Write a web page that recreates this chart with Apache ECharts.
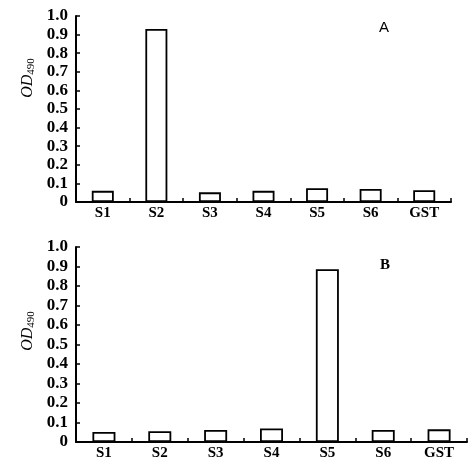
<!DOCTYPE html>
<html><head><meta charset="utf-8">
<script src="https://cdn.jsdelivr.net/npm/echarts@6/dist/echarts.min.js"></script>
<style>html,body{margin:0;padding:0;background:#fff}#c{width:474px;height:467px}</style>
</head><body><div id="c"></div>
<script>
var categories = ['S1','S2','S3','S4','S5','S6','GST'];
var valuesA = [0.06, 0.93, 0.052, 0.06, 0.074, 0.07, 0.063];
var valuesB = [0.051, 0.055, 0.062, 0.069, 0.886, 0.062, 0.065];
var yTickLabels = ['0','0.1','0.2','0.3','0.4','0.5','0.6','0.7','0.8','0.9','1.0'];
var panelLabels = ['A','B'];

var serif = '"Liberation Serif","DejaVu Serif",serif';
var chart = echarts.init(document.getElementById('c'));
function yAxis(gi){
  return {gridIndex:gi,type:'value',min:0,max:1,interval:0.1,
    axisLine:{show:true,lineStyle:{color:'#000',width:2}},
    axisTick:{show:true,inside:true,length:4,lineStyle:{color:'#000',width:1.5}},
    splitLine:{show:false},
    axisLabel:{color:'#000',fontFamily:serif,fontWeight:'bold',fontSize:17,margin:8,
      formatter:function(v){return yTickLabels[Math.round(v*10)];}}};
}
function xAxis(gi){
  return {gridIndex:gi,type:'category',data:categories,
    axisLine:{show:true,lineStyle:{color:'#000',width:2}},
    axisTick:{show:true,inside:true,length:4,interval:0,lineStyle:{color:'#000',width:1.5}},
    axisLabel:{color:'#000',fontFamily:serif,fontWeight:'bold',fontSize:15,margin:4,interval:0}};
}
var barStyle = {color:'#fff',borderColor:'#000',borderWidth:1.8};
function odLabel(x,y){
  return {type:'text',x:x,y:y,rotation:Math.PI/2,
    style:{text:'{i|OD}{s|490}',align:'center',verticalAlign:'middle',
      rich:{i:{fontFamily:serif,fontStyle:'italic',fontSize:16,fill:'#000',lineHeight:18},
            s:{fontFamily:serif,fontSize:11,fill:'#000',verticalAlign:'bottom',lineHeight:18,padding:[8,0,0,0]}}}};
}
chart.setOption({
  animation:false,
  backgroundColor:'#fff',
  title:[
    {text:panelLabels[0],left:374,top:15,textStyle:{fontFamily:'"Liberation Sans",sans-serif',fontWeight:'normal',fontSize:15,color:'#000'}},
    {text:panelLabels[1],left:375,top:253,textStyle:{fontFamily:serif,fontWeight:'bold',fontSize:15,color:'#000'}}
  ],
  grid:[
    {left:76,top:16,width:375,height:186},
    {left:76,top:247,width:391,height:195}
  ],
  xAxis:[xAxis(0),xAxis(1)],
  yAxis:[yAxis(0),yAxis(1)],
  series:[
    {type:'bar',xAxisIndex:0,yAxisIndex:0,data:valuesA,barWidth:22,itemStyle:barStyle},
    {type:'bar',xAxisIndex:1,yAxisIndex:1,data:valuesB,barWidth:23,itemStyle:barStyle}
  ],
  graphic:[odLabel(28,78),odLabel(28,331)]
});
</script></body></html>
